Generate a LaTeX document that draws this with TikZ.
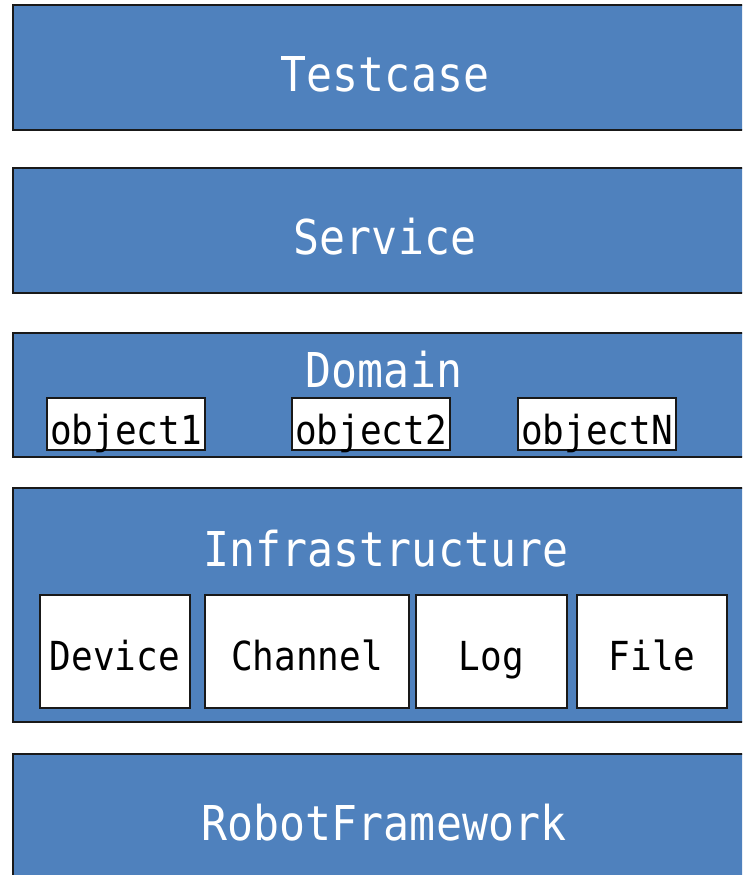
\documentclass[tikz,border=0pt]{standalone}
\usepackage{fontspec}
\setmonofont{DejaVu Sans Mono}
\definecolor{bandblue}{RGB}{79,129,189}
\tikzset{
  band/.style={draw=black!90, fill=bandblue, line width=2pt, rectangle, inner sep=0pt},
  cell/.style={draw=black!90, fill=white, line width=1.6pt, rectangle, inner sep=0pt},
  bigtext/.style={text=white, font=\ttfamily\fontsize{48}{48}\selectfont, xscale=0.9, anchor=base, inner sep=0pt},
  celltext/.style={text=black, font=\ttfamily\fontsize{40}{40}\selectfont, xscale=0.9, anchor=base, inner sep=0pt},
}
\begin{document}
\begin{tikzpicture}[x=1pt,y=-1pt]
\useasboundingbox (0,0) rectangle (742,875);
\clip (0,0) rectangle (742,875);
% layer bands (they run past the right edge)
\node[band, minimum width=737, minimum height=125] (testcase) at (381.5,67.5) {};
\node[band, minimum width=737, minimum height=125] (service) at (381.5,230.5) {};
\node[band, minimum width=737, minimum height=124] (domain) at (381.5,395) {};
\node[band, minimum width=737, minimum height=234] (infra) at (381.5,605) {};
\node[band, minimum width=737, minimum height=140] (robot) at (381.5,824) {};
% layer titles
\node[bigtext] (testcaseT) at (385,92) {Testcase};
\node[bigtext] (serviceT) at (385,254) {Service};
\node[bigtext] (domainT) at (384,387) {Domain};
\node[bigtext] (infraT) at (386,566) {Infrastructure};
\node[bigtext] (robotT) at (384,840) {RobotFramework};
% domain objects
\node[cell, minimum width=158, minimum height=52] (obj1) at (126,424) {};
\node[cell, minimum width=158, minimum height=52] (obj2) at (371,424) {};
\node[cell, minimum width=158, minimum height=52] (objN) at (597,424) {};
\node[celltext] (obj1T) at (126,444) {object1};
\node[celltext] (obj2T) at (371,444) {object2};
\node[celltext] (objNT) at (597,444) {objectN};
% infrastructure components
\node[cell, minimum width=150, minimum height=113] (device) at (115,651.5) {};
\node[cell, minimum width=204, minimum height=113] (channel) at (307,651.5) {};
\node[cell, minimum width=151, minimum height=113] (log) at (491.5,651.5) {};
\node[cell, minimum width=150, minimum height=113] (file) at (652,651.5) {};
\node[celltext] (deviceT) at (115,670) {Device};
\node[celltext] (channelT) at (307,670) {Channel};
\node[celltext] (logT) at (491.5,670) {Log};
\node[celltext] (fileT) at (652,670) {File};
\end{tikzpicture}
\end{document}
